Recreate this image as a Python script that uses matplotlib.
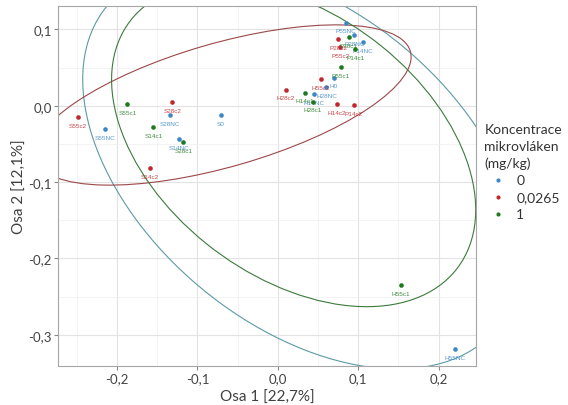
import numpy as np
import matplotlib
matplotlib.use('Agg')
import matplotlib.pyplot as plt
from matplotlib.patches import Ellipse
from matplotlib.ticker import FuncFormatter, MultipleLocator

plt.rcParams['font.family'] = ['Lato', 'DejaVu Sans']

# Koncentrace 0
names_0 = ['P55NC', 'P28NC', 'P14NC', 'H0', 'H28NC', 'H14NC', 'S28NC', 'S0', 'S55NC', 'S14NC', 'H55NC']
x_0 = [0.0852, 0.0951, 0.1063, 0.0695, 0.0605, 0.0448, -0.1336, -0.0709, -0.2152, -0.1229, 0.2206]
y_0 = [0.1088, 0.0921, 0.0833, 0.0368, 0.0246, 0.0154, -0.0118, -0.0118, -0.0307, -0.0439, -0.3193]

# Koncentrace 0,0265
names_1 = ['P28c2', 'P55c2', 'H55c2', 'H28c2', 'S28c2', 'H14c2', 'P14c2', 'S55c2', 'S14c2']
x_1 = [0.0749, 0.0776, 0.0534, 0.0103, -0.1314, 0.0731, 0.0946, -0.2489, -0.1596]
y_1 = [0.0877, 0.0768, 0.0351, 0.0211, 0.0044, 0.0026, 0.0009, -0.0154, -0.0820]

# Koncentrace 1
names_2 = ['P28c1', 'P14c1', 'P55c1', 'H14c1', 'H28c1', 'S55c1', 'S14c1', 'S28c1', 'H55c1']
x_2 = [0.0883, 0.0964, 0.0780, 0.0336, 0.0435, -0.1870, -0.1547, -0.1175, 0.1534]
y_2 = [0.0899, 0.0737, 0.0504, 0.0171, 0.0053, 0.0018, -0.0281, -0.0474, -0.2351]

# elipsy skupin: stred, poloosy, uhel
ell_center = [(0.0300, -0.0806), (-0.0687, 0.0009), (0.0197, -0.0511)]
ell_semi = [(0.3218, 0.2016), (0.2439, 0.0807), (0.2602, 0.1691)]
ell_angle = [137.06, 16.95, 139.62]

legend_labels = ['0', '0,0265', '1']
point_cols = ['#3d87c6', '#c1272d', '#1f7a1f']
ell_cols = ['#5b9aa6', '#9b4848', '#3b7a3b']

fig = plt.figure(figsize=(5.68, 4.06), dpi=100)
ax = fig.add_axes([0.102, 0.096, 0.736, 0.887])

groups = [(names_0, x_0, y_0), (names_1, x_1, y_1), (names_2, x_2, y_2)]
for i, (nm, xs, ys) in enumerate(groups):
    ax.scatter(xs, ys, s=11, color=point_cols[i], label=legend_labels[i], zorder=3, linewidths=0)
    for n, xx, yy in zip(nm, xs, ys):
        ax.annotate(n, (xx, yy), xytext=(0, -6), textcoords='offset points', ha='center', va='center',
                    fontsize=4.6, color=point_cols[i], alpha=0.85, family='Liberation Sans', zorder=3)
    w, h = ell_semi[i]
    ax.add_patch(Ellipse(ell_center[i], 2 * w, 2 * h, angle=ell_angle[i], fill=False,
                         edgecolor=ell_cols[i], lw=0.8, zorder=2))

ax.set_xlim(-0.2735, 0.2465)
ax.set_ylim(-0.341, 0.1307)
ax.xaxis.set_major_locator(MultipleLocator(0.1))
ax.yaxis.set_major_locator(MultipleLocator(0.1))
ax.xaxis.set_minor_locator(MultipleLocator(0.05))
ax.yaxis.set_minor_locator(MultipleLocator(0.05))
fmt = FuncFormatter(lambda v, p: f'{v:.1f}'.replace('.', ',').replace('-0,0', '0,0'))
ax.xaxis.set_major_formatter(fmt)
ax.yaxis.set_major_formatter(fmt)
ax.grid(which='major', color='#e3e3e3', lw=0.8)
ax.grid(which='minor', color='#f1f1f1', lw=0.6)
ax.set_axisbelow(True)
ax.tick_params(which='major', length=3, pad=1.5, color='#888888', labelsize=9.5, labelcolor='#444444')
ax.tick_params(which='minor', length=0)
for s in ax.spines.values():
    s.set_color('#a6a6a6')
    s.set_linewidth(0.8)

ax.set_xlabel('Osa 1 [22,7%]', fontsize=11, color='#404040', labelpad=4)
ax.set_ylabel('Osa 2 [12,1%]', fontsize=11, color='#404040', labelpad=1)

leg = ax.legend(title='Koncentrace\nmikrovláken\n(mg/kg)', loc='center left', bbox_to_anchor=(1.0, 0.54),
                frameon=False, fontsize=10, title_fontsize=10, markerscale=0.9,
                handletextpad=0.3, borderaxespad=0.2, labelspacing=0.35)
leg._legend_box.align = 'left'
for t in leg.get_texts():
    t.set_color('#333333')
leg.get_title().set_color('#333333')
leg.get_title().set_linespacing(1.45)

fig.savefig('out.png', dpi=100)
